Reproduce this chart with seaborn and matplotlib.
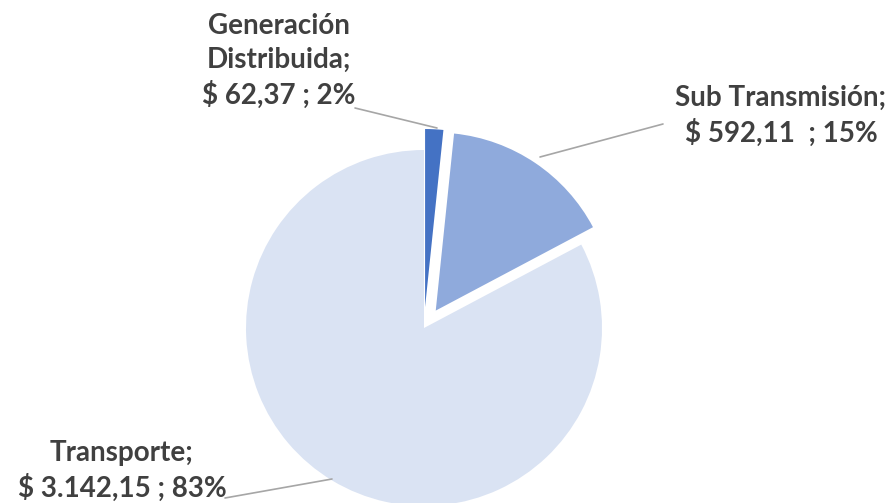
import matplotlib
matplotlib.use("Agg")
import matplotlib.pyplot as plt
import seaborn as sns

categories = ["Generación\nDistribuida", "Sub Transmisión", "Transporte"]
values = [62.37, 592.11, 3142.15]
value_labels = ["$ 62,37", "$ 592,11", "$ 3.142,15"]
pct_labels = ["2%", "15%", "83%"]

sns.set_theme(style="white")
plt.rcParams['font.family'] = ['Lato', 'DejaVu Sans']

colors = ["#4472C4", "#8FAADC", "#DAE3F3"]

fig = plt.figure(figsize=(8.95, 5.03), dpi=100)
ax = fig.add_axes([0, 0, 1, 1])
cx, cy, r = 424, 503 - 328, 178
# explode offsets are in data units (pixels here)
ax.pie(values, colors=colors, startangle=90, counterclock=False,
       explode=[21, 21, 0], center=(cx, cy), radius=r,
       wedgeprops=dict(linewidth=0))
ax.set_xlim(0, 895)
ax.set_ylim(0, 503)
ax.set_aspect("equal")
ax.axis("off")

txt_color = "#404040"
fs = 20
texts = [
    (categories[0] + ";\n" + f"{value_labels[0]} ; {pct_labels[0]}", 279, 61),
    (categories[1] + ";\n" + f"{value_labels[1]}  ; {pct_labels[1]}", 781, 116),
    (categories[2] + ";\n" + f"{value_labels[2]} ; {pct_labels[2]}", 122, 471),
]
for s, x, y in texts:
    ax.text(x, 503 - y, s, ha="center", va="center", fontsize=fs,
            fontweight="bold", color=txt_color, linespacing=1.36)

lines = [
    ((355, 108), (437, 128)),
    ((540, 157), (663, 124)),
    ((225, 498), (332, 479)),
]
for (x0, y0), (x1, y1) in lines:
    ax.plot([x0, x1], [503 - y0, 503 - y1], color="#A6A6A6", lw=1.2)

fig.savefig("out.png", dpi=100)
